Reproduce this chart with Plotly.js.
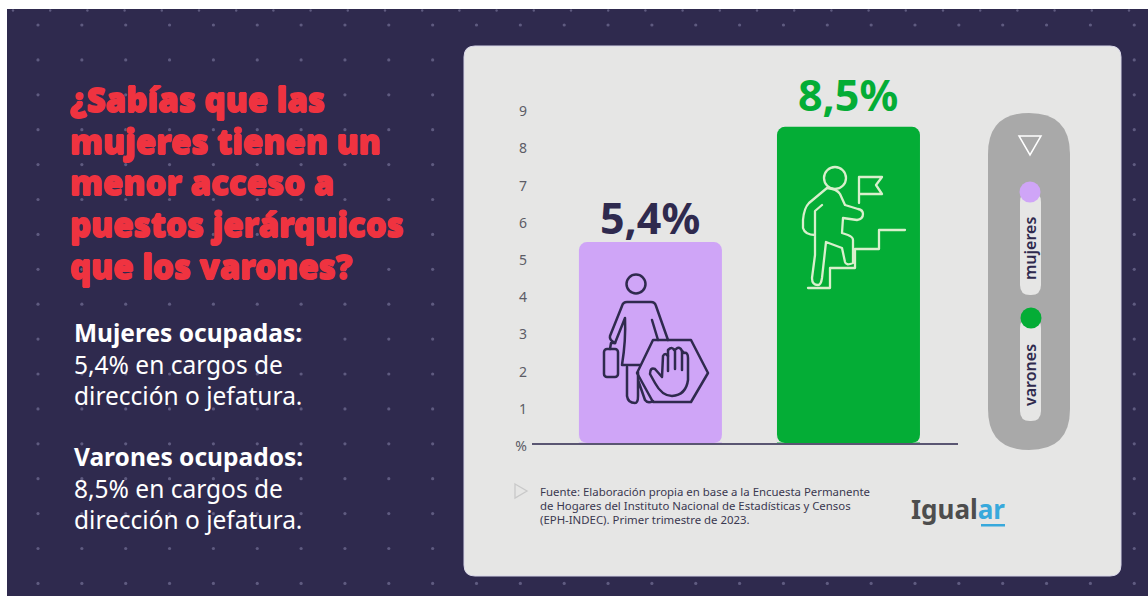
<!DOCTYPE html>
<html>
<head>
<meta charset="utf-8">
<script src="https://cdn.plot.ly/plotly-3.0.1.min.js"></script>
<style>html,body{margin:0;padding:0;background:#fff;overflow:hidden}</style>
</head>
<body>
<div id="chart" style="width:1148px;height:596px"></div>
<script>
const categories = ["mujeres", "varones"];
const values = [5.4, 8.5];
const valueLabels = ["5,4%", "8,5%"];
const barColors = ["#cfa5f7", "#04ad36"];
const tickValues = [0, 1, 2, 3, 4, 5, 6, 7, 8, 9];
const tickLabels = ["%", "1", "2", "3", "4", "5", "6", "7", "8", "9"];
const titleLines = ["¿Sabías que las", "mujeres tienen un", "menor acceso a", "puestos jerárquicos", "que los varones?"];
const bodyLines = ["<b>Mujeres ocupadas:</b>", "5,4% en cargos de", "dirección o jefatura.", "<b>Varones ocupados:</b>", "8,5% en cargos de", "dirección o jefatura."];
const sourceLines = ["Fuente: Elaboración propia en base a la Encuesta Permanente", "de Hogares del Instituto Nacional de Estadísticas y Censos", "(EPH-INDEC). Primer trimestre de 2023."];

const W = 1148, H = 596, DARK = "#2f2a4e", PANEL = "#e6e6e5", FONT = "'Noto Sans', sans-serif";
const fx = x => x / W, fy = y => 1 - y / H;
const pt = (x, y) => fx(x) + "," + fy(y);
function rr(x0, y0, x1, y1, r) {
  return "M" + pt(x0 + r, y0) + "L" + pt(x1 - r, y0) + "Q" + pt(x1, y0) + " " + pt(x1, y0 + r) +
    "L" + pt(x1, y1 - r) + "Q" + pt(x1, y1) + " " + pt(x1 - r, y1) + "L" + pt(x0 + r, y1) +
    "Q" + pt(x0, y1) + " " + pt(x0, y1 - r) + "L" + pt(x0, y0 + r) + "Q" + pt(x0, y0) + " " + pt(x0 + r, y0) + "Z";
}
function poly(p, close) { return "M" + p.map(a => pt(a[0], a[1])).join("L") + (close ? "Z" : ""); }
const rect = (x0, y0, x1, y1, c) => ({type: "rect", xref: "paper", yref: "paper", x0: fx(x0), x1: fx(x1), y0: fy(y1), y1: fy(y0), fillcolor: c, line: {width: 0}, layer: "below"});
const path = (d, fill, line, w) => ({type: "path", xref: "paper", yref: "paper", path: d, fillcolor: fill, line: {color: line, width: w || 0}, layer: "below"});
const circ = (x, y, r, c) => ({type: "circle", xref: "paper", yref: "paper", x0: fx(x - r), x1: fx(x + r), y0: fy(y + r), y1: fy(y - r), fillcolor: c, line: {width: 0}, layer: "below"});
const corner = (x, s) => Object.assign(path("M" + pt(x, 442.5) + "L" + pt(x + s * 8, 442.5) + "Q" + pt(x, 442.5) + " " + pt(x, 434.5) + "Z", PANEL), {layer: "above"});

const shapes = [
  rect(0, 0, W, 9, "#ffffff"),
  rect(0, 0, 7, H, "#ffffff"),
  path(rr(464, 46, 1121, 576, 11), PANEL, "#d8d6e8", 1),
  path(rr(988, 113, 1070, 450, 41), "#a9a9a9", "#a9a9a9", 0),
  path(poly([[1019, 136], [1041, 136], [1030, 155]], true), "rgba(0,0,0,0)", "#ffffff", 1.5),
  path(rr(1020, 192, 1041, 295, 10), PANEL),
  path(rr(1020, 318, 1041, 421, 10), PANEL),
  circ(1030, 192, 10.5, barColors[0]),
  circ(1031, 318, 10.5, barColors[1]),
  path(poly([[515, 484], [527, 491], [515, 498]], true), "rgba(0,0,0,0)", "#c9c9c9", 1.3),
  rect(981, 524, 1005, 526.5, "#38a9dc"),
  corner(579, 1), corner(722, -1), corner(777, 1), corner(920, -1)
];

let dots = "";
for (let i = 0; i < 26; i++) for (let j = 0; j < 17; j++)
  dots += '<circle cx="' + (38 + 43.85 * i) + '" cy="' + (25 + 34.9 * j) + '" r="1.6"/>';
for (let i = 0; i < 31; i++) dots += '<circle cx="' + (13 + 37.2 * i) + '" cy="10.5" r="1.2"/>';
const dotsSvg = '<svg xmlns="http://www.w3.org/2000/svg" width="1148" height="596" viewBox="0 0 1148 596"><g fill="#5f5b80">' + dots + '</g></svg>';

const iconSvg = '<svg xmlns="http://www.w3.org/2000/svg" width="1148" height="596" viewBox="0 0 1148 596"><g fill="none" stroke-linejoin="round" stroke-linecap="round">' +
  '<g stroke="#2f2a4e" stroke-width="2.5">' +
  '<circle cx="636" cy="284" r="9.5"/>' +
  '<path d="M668 340L656 306Q655 302 651 302L627 302Q623 302 622 306L610 336Q609 340 615 343"/>' +
  '<path d="M625 318L615 343M652 320L658 340M625 318Q626 340 622 365L640 365"/>' +
  '<path d="M627 367L627 396Q628 403 635 403Q638 403 638 396L638 372M638 380L645 400Q648 404 653 401"/>' +
  '<rect x="604" y="349" width="14" height="28" rx="3"/><path d="M610 349L611 343L615 343"/>' +
  '<path d="M708 373L691 340L653 340L637 373L653 402L691 402Z"/>' +
  '<path d="M655 383L650 374Q650 367 655 369L662 377L663 356Q665 352 668 356L668 350Q672 346 674 350L676 349Q680 346 682 351L684 353Q688 352 688 358L688 380Q686 395 672 396Q662 396 655 383Z"/>' +
  '<path d="M668 356L668 371M675 350L675 369M682 351L682 370"/></g>' +
  '<g stroke="#d9efcc" stroke-width="2.3">' +
  '<circle cx="835" cy="178" r="11"/>' +
  '<path d="M859 177L859 203M859 177L882 177L876 185L882 194L859 194"/>' +
  '<path d="M827 188L809 203Q804 208 803 220L803 228Q805 235 815 235M822 205L815 211L815 255L812 278Q812 285 818 285Q821 285 822 278L826 242L842 248L845 262Q846 266 853 263L853 240Q853 237 848 235L842 233L843 218L857 220Q863 219 863 214Q863 210 858 209L845 205L840 194Q837 189 827 188"/>' +
  '<path d="M808 288L830 288L830 268L855 268L855 249L879 249L879 230L905 230"/></g></g></svg>';
const uri = s => "data:image/svg+xml;charset=utf-8," + encodeURIComponent(s);
const full = (s, layer) => ({source: uri(s), xref: "paper", yref: "paper", x: 0, y: 1, sizex: 1, sizey: 1, xanchor: "left", yanchor: "top", sizing: "stretch", layer: layer});

const note = (x, y, text, size, color, extra, weight, shadow) => Object.assign({xref: "paper", yref: "paper", x: fx(x), y: fy(y), text: text, showarrow: false, xanchor: "left", yanchor: "middle", borderpad: 0, font: {family: FONT, size: size, color: color, weight: weight || 400, shadow: shadow || "none"}}, extra || {});

const annotations = [];
const titleY = [100, 141, 183, 225, 266];
const heavy = "0.6px 0 0 #ef3340, -0.6px 0 0 #ef3340, 0 0.6px 0 #ef3340, 0 -0.6px 0 #ef3340";
titleLines.forEach((t, i) => annotations.push(note(68.5, titleY[i], t, 33, "#ef3340", null, 900, heavy)));
const bodyY = [332, 364, 395, 456, 488, 519];
bodyLines.forEach((t, i) => annotations.push(note(73, bodyY[i], t, 24.5, "#ffffff")));
const srcY = [491, 505, 519];
sourceLines.forEach((t, i) => annotations.push(note(539, srcY[i], t, 11.4, "#3a3850")));
const labelY = [218, 95], labelC = [DARK, barColors[1]];
categories.forEach((c, i) => annotations.push({xref: "x", yref: "paper", x: c, y: fy(labelY[i]), text: valueLabels[i], showarrow: false, yanchor: "middle", font: {family: FONT, size: 43, weight: 700, color: labelC[i]}}));
annotations.push(note(1030, 249, categories[0], 16, "#2f2a4e", {xanchor: "center", textangle: -90}, 600));
annotations.push(note(1030, 375, categories[1], 16, "#2f2a4e", {xanchor: "center", textangle: -90}, 600));
annotations.push(note(910, 509, "<b>Igual<span style=\"color:#38a9dc\">ar</span></b>", 26, "#4d4d4d"));

const data = [{
  type: "bar", x: categories, y: values,
  marker: {color: barColors, line: {width: 0}},
  hoverinfo: "skip", showlegend: false
}];
const layout = {
  width: W, height: H, margin: {l: 0, r: 0, t: 0, b: 0},
  paper_bgcolor: DARK, plot_bgcolor: "rgba(0,0,0,0)",
  bargap: 0.278, barcornerradius: 8, showlegend: false,
  font: {family: FONT},
  xaxis: {type: "category", domain: [fx(532), fx(958)], range: [-0.598, 1.553], showticklabels: false, ticks: "", showgrid: false, zeroline: false, showline: true, linecolor: "#5a5672", linewidth: 1.5, fixedrange: true},
  yaxis: {domain: [fy(443), fy(95)], range: [0, 9.355], tickmode: "array", tickvals: tickValues, ticktext: tickLabels, ticks: "", ticklabelshift: 3, ticklabelstandoff: 4, showgrid: false, zeroline: false, showline: false, tickfont: {family: FONT, size: 14, color: "#5c5c66"}, fixedrange: true},
  shapes: shapes,
  images: [full(dotsSvg, "below"), full(iconSvg, "above")],
  annotations: annotations
};
Plotly.newPlot("chart", data, layout, {displayModeBar: false, staticPlot: true});
</script>
</body>
</html>
